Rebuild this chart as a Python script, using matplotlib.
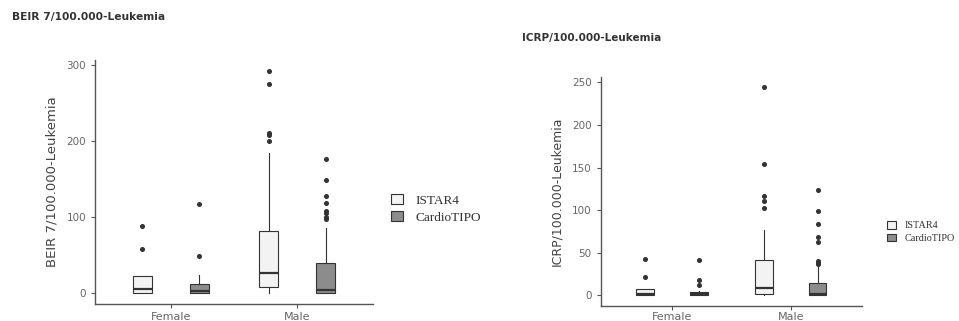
import matplotlib
matplotlib.use('Agg')
import matplotlib.pyplot as plt
from matplotlib.patches import Patch

# box summaries read per group: q1, median, q3, whisker low, whisker high, outliers
sexes = ['Female', 'Male']
devices = ['ISTAR4', 'CardioTIPO']
fills = {'ISTAR4': '#f3f3f3', 'CardioTIPO': '#8c8c8c'}

beir_q1 = {'ISTAR4': [0, 8], 'CardioTIPO': [0, 0]}
beir_med = {'ISTAR4': [5, 26], 'CardioTIPO': [2, 4]}
beir_q3 = {'ISTAR4': [22, 81], 'CardioTIPO': [12, 39]}
beir_lo = {'ISTAR4': [0, 0], 'CardioTIPO': [0, 0]}
beir_hi = {'ISTAR4': [22, 184], 'CardioTIPO': [23, 86]}
beir_out = {'ISTAR4': [[88, 58], [292, 275, 211, 208, 200]],
            'CardioTIPO': [[117, 49], [176, 148, 127, 119, 108, 105, 100, 97]]}

icrp_q1 = {'ISTAR4': [0, 2], 'CardioTIPO': [0, 0]}
icrp_med = {'ISTAR4': [2, 9], 'CardioTIPO': [1, 2]}
icrp_q3 = {'ISTAR4': [7, 41], 'CardioTIPO': [4, 14]}
icrp_lo = {'ISTAR4': [0, 0], 'CardioTIPO': [0, 0]}
icrp_hi = {'ISTAR4': [7, 77], 'CardioTIPO': [5, 36]}
icrp_out = {'ISTAR4': [[43, 21], [244, 154, 116, 111, 102]],
            'CardioTIPO': [[42, 18, 12], [124, 99, 84, 69, 62, 40, 38, 37]]}

GREY = '#555555'
INK = '#333333'


def draw_panel(ax, q1, med, q3, lo, hi, out, ylabel, ticks, label_size, xpad):
    allvals = []
    for k, dev in enumerate(devices):
        stats = []
        for i in range(len(sexes)):
            stats.append(dict(q1=q1[dev][i], med=med[dev][i], q3=q3[dev][i],
                              whislo=lo[dev][i], whishi=hi[dev][i],
                              fliers=out[dev][i]))
            allvals += [lo[dev][i], hi[dev][i]] + list(out[dev][i])
        pos = [i + 1 + (k - 0.5) * 0.45 for i in range(len(sexes))]
        ax.bxp(stats, positions=pos, widths=0.15, showcaps=False,
               patch_artist=True,
               boxprops=dict(facecolor=fills[dev], edgecolor=INK, linewidth=0.8),
               medianprops=dict(color=INK, linewidth=1.6),
               whiskerprops=dict(color=INK, linewidth=0.8),
               flierprops=dict(marker='o', markersize=2.6, markerfacecolor=INK,
                               markeredgecolor=INK))
    lo_v, hi_v = min(allvals), max(allvals)
    pad = 0.05 * (hi_v - lo_v)
    ax.set_ylim(lo_v - pad, hi_v + pad)
    ax.set_xlim(0.4, 2.6)
    ax.set_xticks([1, 2])
    ax.set_xticklabels(sexes)
    ax.set_yticks(ticks)
    ax.set_ylabel(ylabel, fontsize=label_size, color='#444444', labelpad=6)
    for s in ['top', 'right']:
        ax.spines[s].set_visible(False)
    for s in ['left', 'bottom']:
        ax.spines[s].set_color(GREY)
        ax.spines[s].set_linewidth(1.0)
    ax.tick_params(colors=GREY, labelsize=7.5, length=3, width=0.8,
                   labelcolor='#666666')
    ax.tick_params(axis='x', pad=xpad, labelsize=8)


fig = plt.figure(figsize=(9.59, 3.21), dpi=100)
ax1 = fig.add_axes([0.0991, 0.053, 0.290, 0.760])
ax2 = fig.add_axes([0.6264, 0.0477, 0.2725, 0.7123])

draw_panel(ax1, beir_q1, beir_med, beir_q3, beir_lo, beir_hi, beir_out,
           'BEIR 7/100.000-Leukemia', [0, 100, 200, 300], 9.5, 3)
draw_panel(ax2, icrp_q1, icrp_med, icrp_q3, icrp_lo, icrp_hi, icrp_out,
           'ICRP/100.000-Leukemia', [0, 50, 100, 150, 200, 250], 9, 1.8)

fig.text(12 / 959, 1 - 17 / 321, 'BEIR 7/100.000-Leukemia', fontsize=7.7,
         fontweight='bold', color='#333333', va='center', ha='left')
fig.text(522 / 959, 1 - 38 / 321, 'ICRP/100.000-Leukemia', fontsize=7.5,
         fontweight='bold', color='#333333', va='center', ha='left')

handles = [Patch(facecolor=fills[d], edgecolor=INK, linewidth=0.8) for d in devices]
fig.legend(handles, devices, loc='center left', bbox_to_anchor=(379 / 959, 1 - 209 / 321),
           frameon=False, prop=dict(family='Liberation Serif', size=9.5),
           handlelength=0.9, handleheight=0.8, handletextpad=1.0, labelspacing=0.35,
           labelcolor='#333333')
fig.legend(handles, devices, loc='center left', bbox_to_anchor=(878 / 959, 1 - 232 / 321),
           frameon=False, prop=dict(family='Liberation Serif', size=7.3),
           handlelength=0.9, handleheight=0.8, handletextpad=0.8, labelspacing=0.3,
           labelcolor='#333333')

fig.savefig('out.png', dpi=100)
